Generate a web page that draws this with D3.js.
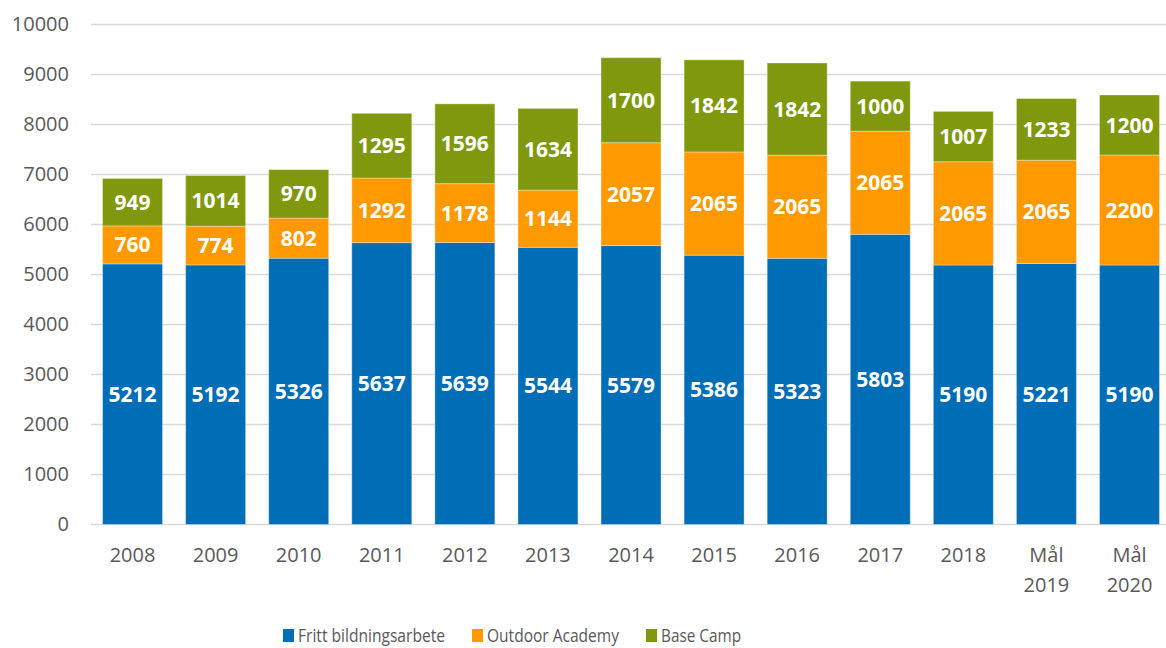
<!DOCTYPE html>
<html>
<head>
<meta charset="utf-8">
<script src="https://cdn.jsdelivr.net/npm/d3@7"></script>
<style>
  body { margin: 0; background: #fff; }
  svg { display: block; font-family: "Open Sans", sans-serif; }
</style>
</head>
<body>
<div id="chart"></div>
<script>
const categories = ["2008", "2009", "2010", "2011", "2012", "2013", "2014", "2015", "2016", "2017", "2018", "Mål 2019", "Mål 2020"];
const fritt = [5212, 5192, 5326, 5637, 5639, 5544, 5579, 5386, 5323, 5803, 5190, 5221, 5190];
const outdoor = [760, 774, 802, 1292, 1178, 1144, 2057, 2065, 2065, 2065, 2065, 2065, 2200];
const baseCamp = [949, 1014, 970, 1295, 1596, 1634, 1700, 1842, 1842, 1000, 1007, 1233, 1200];
const seriesNames = ["Fritt bildningsarbete", "Outdoor Academy", "Base Camp"];
const seriesColors = ["#006EB7", "#FF9900", "#7F980E"];
const yTicks = [0, 1000, 2000, 3000, 4000, 5000, 6000, 7000, 8000, 9000, 10000];

const width = 1166, height = 648;
const plotLeft = 91, step = 83.08;

const data = categories.map((c, i) => ({cat: c, fritt: fritt[i], outdoor: outdoor[i], base: baseCamp[i]}));
const keys = ["fritt", "outdoor", "base"];
const stacked = d3.stack().keys(keys)(data);

const svg = d3.select("#chart").append("svg")
    .attr("width", width)
    .attr("height", height);

const x = d3.scaleBand()
    .domain(categories)
    .range([plotLeft, plotLeft + step * categories.length])
    .paddingInner(0.278)
    .paddingOuter(0.139);

const y = d3.scaleLinear().domain([0, 10000]).range([524.5, 24.5]);

// gridlines
svg.append("g")
    .selectAll("line")
    .data(yTicks)
  .enter().append("line")
    .attr("x1", plotLeft)
    .attr("x2", plotLeft + step * categories.length)
    .attr("y1", d => y(d))
    .attr("y2", d => y(d))
    .attr("stroke", "#D9D9D9")
    .attr("stroke-width", 1.5);

// y axis labels
const yAxis = d3.axisLeft(y).tickValues(yTicks).tickFormat(d3.format("d")).tickSize(0).tickPadding(0);
svg.append("g")
    .attr("transform", "translate(69,0)")
    .call(yAxis)
    .call(g => g.select(".domain").remove())
    .selectAll("text")
    .attr("fill", "#595959")
    .style("font-size", "20px")
    .style("font-family", "Open Sans, sans-serif");

// bars
const layer = svg.selectAll(".layer")
    .data(stacked)
  .enter().append("g")
    .attr("class", "layer")
    .attr("fill", (d, i) => seriesColors[i]);

layer.selectAll("rect")
    .data(d => d)
  .enter().append("rect")
    .attr("x", d => x(d.data.cat))
    .attr("width", x.bandwidth())
    .attr("y", d => y(d[1]))
    .attr("height", d => y(d[0]) - y(d[1]))
    .attr("stroke", "#ffffff")
    .attr("stroke-opacity", 0.35)
    .attr("stroke-width", 1);

layer.selectAll("text")
    .data(d => d)
  .enter().append("text")
    .attr("x", d => x(d.data.cat) + x.bandwidth() / 2)
    .attr("y", d => (y(d[0]) + y(d[1])) / 2)
    .attr("dy", "0.36em")
    .attr("text-anchor", "middle")
    .attr("fill", "#ffffff")
    .style("font-size", "21px")
    .style("font-weight", "bold")
    .text(d => d[1] - d[0]);

// x axis labels
const xLabels = svg.append("g")
    .selectAll("text")
    .data(categories)
  .enter().append("text")
    .attr("x", d => x(d) + x.bandwidth() / 2)
    .attr("y", 562)
    .attr("text-anchor", "middle")
    .attr("fill", "#595959")
    .style("font-size", "20px");

xLabels.each(function(d) {
    const parts = d.split(" ");
    const t = d3.select(this);
    parts.forEach((p, i) => {
        t.append("tspan")
            .attr("x", x(d) + x.bandwidth() / 2)
            .attr("dy", i === 0 ? 0 : 30)
            .text(p);
    });
});

// legend
const legendPos = [283, 472, 646];
const legendTextWidth = [147, 132, 80];
const legend = svg.append("g")
    .selectAll("g")
    .data(seriesNames)
  .enter().append("g")
    .attr("transform", (d, i) => `translate(${legendPos[i]},0)`);

legend.append("rect")
    .attr("x", 0)
    .attr("y", 629)
    .attr("width", 11)
    .attr("height", 13)
    .attr("fill", (d, i) => seriesColors[i]);

legend.append("text")
    .attr("x", 15)
    .attr("y", 642)
    .attr("fill", "#595959")
    .style("font-size", "19px")
    .attr("textLength", (d, i) => legendTextWidth[i])
    .attr("lengthAdjust", "spacingAndGlyphs")
    .text(d => d);
</script>
</body>
</html>
